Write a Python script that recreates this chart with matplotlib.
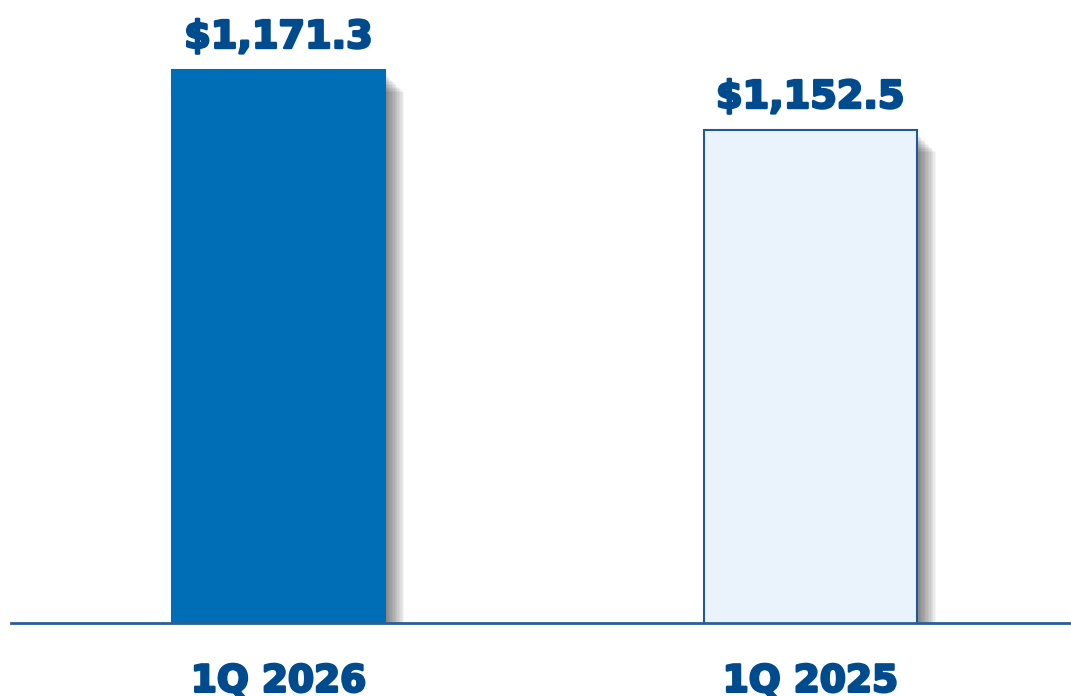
import matplotlib
matplotlib.use("Agg")
import matplotlib.pyplot as plt
import matplotlib.patheffects as pe

categories = ["1Q 2026", "1Q 2025"]
values = [1171.3, 1152.5]
value_labels = ["$1,171.3", "$1,152.5"]

fill_colors = ["#006DB7", "#EAF3FB"]
edge_colors = ["#006DB7", "#1F5A96"]
text_color = "#004B8D"

plt.rcParams['font.family'] = ['DejaVu Sans']

fig = plt.figure(figsize=(10.71, 6.96), dpi=100)
ax = fig.add_axes([11/1071, 73/696, 1 - 11/1071, 1 - 73/696])

x = list(range(len(categories)))
shadow = [pe.SimplePatchShadow(offset=(o, -o - 2), shadow_rgbFace="black", alpha=0.045)
          for o in range(14, 1, -1)] + [pe.Normal()]
bars = ax.bar(x, values, width=0.4, color=fill_colors, edgecolor=edge_colors,
              linewidth=1.5, zorder=3)
for b in bars:
    b.set_path_effects(shadow)

text_fx = [pe.withStroke(linewidth=1.8, foreground=text_color)]
for xi, v, lab in zip(x, values, value_labels):
    ax.annotate(lab, (xi, v), xytext=(0, 15.8), textcoords="offset points",
                ha="center", va="baseline", fontsize=27.5, fontweight="bold",
                color=text_color, path_effects=text_fx)

ax.set_xlim(-0.503, 1.49)
ax.set_ylim(998, 1193.2)
ax.set_xticks(x)
ax.set_xticklabels(categories, fontsize=27, fontweight="bold", color=text_color)
for lbl in ax.get_xticklabels():
    lbl.set_verticalalignment("baseline")
    lbl.set_path_effects(text_fx)
ax.tick_params(axis="x", length=0, pad=49.5)
ax.set_yticks([])
for s in ["top", "right", "left"]:
    ax.spines[s].set_visible(False)
ax.spines["bottom"].set_color("#2A5F95")
ax.spines["bottom"].set_linewidth(2)
ax.spines["bottom"].set_zorder(4)

fig.savefig("out.png", dpi=100)
